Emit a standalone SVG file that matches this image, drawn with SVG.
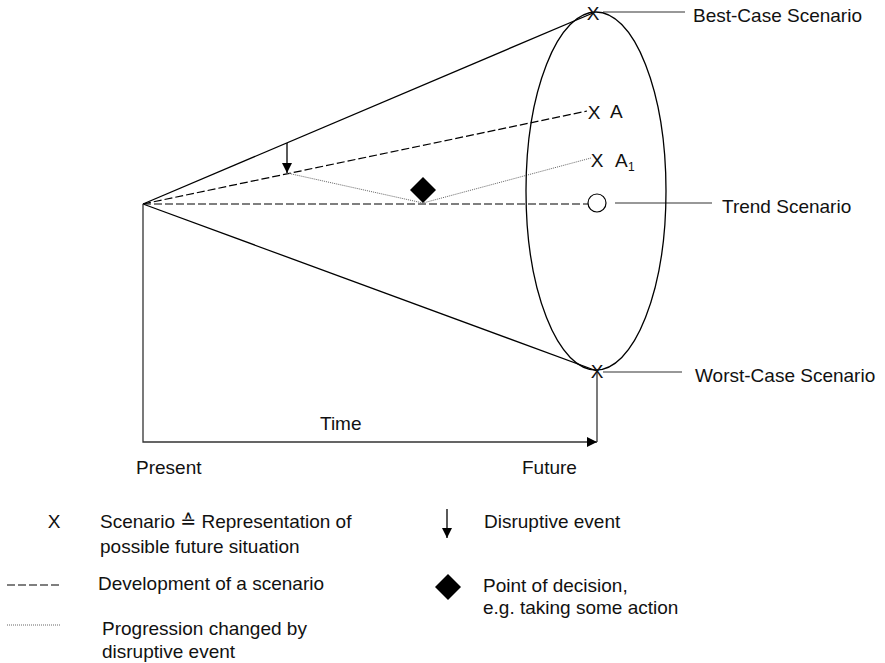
<svg xmlns="http://www.w3.org/2000/svg" width="885" height="663" viewBox="0 0 885 663">
<style>
text { font-family: "Liberation Sans", Arial, "DejaVu Sans", sans-serif; font-size: 19px; fill: #111; }
.sub { font-size: 12px; }
.solid { stroke: #000; stroke-width: 1.3; fill: none; }
.axis { stroke: #333; stroke-width: 1.3; fill: none; }
.dash { stroke: #000; stroke-width: 1.2; stroke-dasharray: 8 3; fill: none; }
.dot { stroke: #666; stroke-width: 1; stroke-dasharray: 1 1; fill: none; }
.thin { stroke: #333; stroke-width: 1.2; fill: none; }
.mk { text-anchor: middle; }
</style>
<defs>
<marker id="arr" viewBox="0 0 10 10" refX="10" refY="5" markerWidth="10" markerHeight="10" markerUnits="userSpaceOnUse" orient="auto">
<path d="M0,0 L10,5 L0,10 Z" fill="#000"/>
</marker>
</defs>
<g id="connectors">
<line class="solid" x1="143" y1="204" x2="593" y2="13"/>
<line class="solid" x1="143" y1="204" x2="597" y2="371"/>
<line class="dash" x1="143" y1="204" x2="587" y2="111"/>
<line class="dash" x1="143" y1="204" x2="588" y2="204"/>
<polyline class="dot" points="287,173 423,203 591,158"/>
<line class="solid" x1="287" y1="143" x2="287" y2="173" marker-end="url(#arr)"/>
<polyline class="axis" points="143,204 143,442 597,442" marker-end="url(#arr)"/>
<line class="axis" x1="597" y1="372" x2="597" y2="442"/>
<line class="thin" x1="603" y1="12" x2="685" y2="12"/>
<line class="thin" x1="615" y1="203" x2="712" y2="203"/>
<line class="thin" x1="603" y1="372" x2="682" y2="372"/>
</g>
<g id="cone-ellipse">
<ellipse cx="596" cy="191" rx="70" ry="179" class="solid"/>
</g>
<g id="best-case">
<text class="mk" x="593" y="20">X</text>
<text x="693" y="22">Best-Case Scenario</text>
</g>
<g id="scenario-a">
<text class="mk" x="594" y="119">X</text>
<text x="610" y="118">A</text>
</g>
<g id="scenario-a1">
<text class="mk" x="597" y="167">X</text>
<text x="615" y="167">A</text>
<text class="sub" x="628" y="171">1</text>
</g>
<g id="trend">
<circle cx="597" cy="203" r="9" fill="#fff" stroke="#000" stroke-width="1.2"/>
<text x="722" y="213">Trend Scenario</text>
</g>
<g id="worst-case">
<text class="mk" x="597" y="378">X</text>
<text x="695" y="382">Worst-Case Scenario</text>
</g>
<g id="decision">
<polygon points="423,177 436,190 423,203 410,190" fill="#000"/>
</g>
<g id="time-axis">
<text x="320" y="430">Time</text>
<text x="136" y="474">Present</text>
<text x="522" y="474">Future</text>
</g>
<g id="legend">
<text class="mk" x="54" y="528">X</text>
<text x="100" y="528">Scenario ≙ Representation of</text>
<text x="100" y="553">possible future situation</text>
<line class="solid" x1="447" y1="509" x2="447" y2="538" marker-end="url(#arr)"/>
<text x="484" y="528">Disruptive event</text>
<line class="dash" x1="7" y1="585" x2="61" y2="585"/>
<text x="98" y="590">Development of a scenario</text>
<polygon points="448,574 461,587 448,600 435,587" fill="#000"/>
<text x="483" y="592">Point of decision,</text>
<text x="483" y="614">e.g. taking some action</text>
<line class="dot" x1="7" y1="625" x2="60" y2="625"/>
<text x="102" y="635">Progression changed by</text>
<text x="102" y="658">disruptive event</text>
</g>
</svg>
